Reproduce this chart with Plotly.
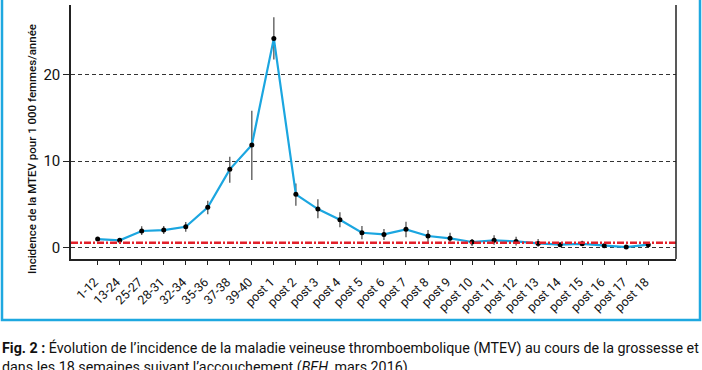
import plotly.graph_objects as go

categories = ["1-12", "13-24", "25-27", "28-31", "32-34", "35-36", "37-38", "39-40",
              "post 1", "post 2", "post 3", "post 4", "post 5", "post 6", "post 7", "post 8",
              "post 9", "post 10", "post 11", "post 12", "post 13", "post 14", "post 15",
              "post 16", "post 17", "post 18"]
incidence = [1.0, 0.85, 1.93, 2.04, 2.42, 4.66, 9.04, 11.85,
             24.15, 6.16, 4.46, 3.23, 1.73, 1.54, 2.12, 1.35,
             1.08, 0.66, 0.85, 0.73, 0.5, 0.35, 0.45, 0.23, 0.08, 0.35]
ci_upper = [1.2, 1.05, 2.47, 2.5, 2.96, 5.42, 10.5, 15.8,
            26.6, 7.4, 5.58, 4.08, 2.5, 2.16, 3.0, 2.04,
            1.73, 1.0, 1.43, 1.27, 1.0, 0.55, 0.81, 0.4, 0.2, 0.55]
ci_lower = [0.82, 0.65, 1.46, 1.58, 1.85, 3.85, 7.5, 7.8,
            21.7, 4.84, 3.39, 2.35, 0.97, 0.89, 1.2, 0.66,
            0.5, 0.2, 0.35, 0.27, 0.12, 0.17, 0.23, 0.08, 0.0, 0.17]
reference_level = 0.58
y_ticks = [0, 10, 20]

err_plus = [u - v for u, v in zip(ci_upper, incidence)]
err_minus = [v - l for v, l in zip(incidence, ci_lower)]

W, H = 702, 370
L, R, T, B = 71, 26, 5, 111
pw, ph = W - L - R, H - T - B


def px(x):
    return (x - L) / pw


def py(y):
    return (H - B - y) / ph


fig = go.Figure()
fig.add_trace(go.Scatter(
    x=categories, y=incidence, mode="lines+markers",
    line=dict(color="#1ba6e0", width=2.2),
    marker=dict(color="black", size=5),
    error_y=dict(type="data", array=err_plus, arrayminus=err_minus,
                 color="#555555", thickness=1.3, width=0),
    showlegend=False,
))

shapes = [
    dict(type="line", xref="paper", x0=0, x1=1, yref="y", y0=reference_level, y1=reference_level,
         line=dict(color="#e3202a", width=2.6, dash="7px,2px,2px,2px"), layer="above"),
    dict(type="line", xref="paper", x0=1, x1=1, yref="paper", y0=0, y1=1,
         line=dict(color="#222222", width=1.5)),
    dict(type="rect", xref="paper", yref="paper",
         x0=px(2), x1=px(700), y0=py(320), y1=py(-10),
         line=dict(color="#1ea8e0", width=2.5)),
]

annotations = [
    dict(text="Incidence de la MTEV pour 1 000 femmes/année", textangle=-90,
         xref="paper", yref="paper", x=px(32), y=py(149), xanchor="center", yanchor="middle",
         showarrow=False, font=dict(family="Roboto", size=11.5, color="#111111", weight=500)),
    dict(text="<b>Fig. 2 :</b> Évolution de l’incidence de la maladie veineuse thromboembolique (MTEV) au cours de la grossesse et"
              "<br>dans les 18 semaines suivant l’accouchement (<i>BEH</i>, mars 2016).",
         xref="paper", yref="paper", x=px(0), y=py(337), xanchor="left", yanchor="top", align="left",
         showarrow=False, font=dict(family="Roboto", size=14.3, color="#111111")),
]

fig.update_layout(
    width=W, height=H,
    margin=dict(l=L, r=R, t=T, b=B, pad=0, autoexpand=False),
    paper_bgcolor="white", plot_bgcolor="white",
    shapes=shapes, annotations=annotations,
    font=dict(family="Roboto", color="#111111"),
)
fig.update_xaxes(
    type="category", range=[-1.21, 26.26],
    tickangle=-45, tickfont=dict(size=12.5, family="Roboto"),
    ticks="outside", ticklen=4, tickcolor="#222222",
    ticklabelstandoff=5, ticklabelshift=-3,
    showline=True, linecolor="#222222", linewidth=1.5,
    showgrid=False, zeroline=False,
)
fig.update_yaxes(
    range=[-1.3, 28.0], tickvals=y_ticks,
    tickfont=dict(size=15, family="Roboto"),
    ticks="outside", ticklen=6, tickcolor="#222222",
    showline=True, linecolor="#222222", linewidth=1.5,
    showgrid=True, gridcolor="#333333", gridwidth=1, griddash="4px,3px",
    zeroline=False,
)

fig.write_html("out.html", config={"displayModeBar": False},
               post_script="document.body.style.margin='0';document.body.style.overflow='hidden';")
